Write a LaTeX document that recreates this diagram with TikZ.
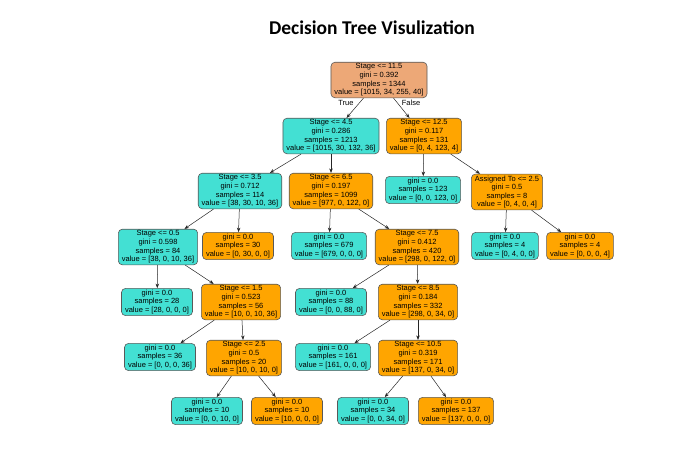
\documentclass[tikz,border=0pt]{standalone}
\usepackage{fontspec}
\setmainfont{Liberation Sans}
\newfontfamily\titlefont{Carlito}
\usetikzlibrary{arrows.meta}
\definecolor{rootsalmon}{HTML}{EDA877}
\definecolor{leafcyan}{HTML}{43E0D3}
\definecolor{leaforange}{HTML}{FFA500}
\tikzset{
  tnode/.style={draw=black!65, line width=0.6pt, rounded corners=4pt, align=center,
    font=\fontsize{7.5}{8.6}\selectfont, inner xsep=3.5pt, inner ysep=1.5pt},
  cnode/.style={tnode, fill=leafcyan},
  onode/.style={tnode, fill=leaforange},
  edge/.style={black!85, line width=0.5pt, -{Stealth[length=4.5pt,width=3.5pt]}},
  lbl/.style={font=\fontsize{7.5}{8.6}\selectfont, inner sep=0pt}
}

\begin{document}
\begin{tikzpicture}[x=1pt,y=-1pt]
\useasboundingbox (0,0) rectangle (693,475);
\node[font=\titlefont\bfseries\fontsize{19.5}{22}\selectfont] (title) at (372,28) {Decision Tree Visulization};
\node[tnode, fill=rootsalmon] (root) at (379,80) {Stage <= 11.5\\gini = 0.392\\samples = 1344\\value = [1015, 34, 255, 40]};
\node[cnode] (s45) at (331,136) {Stage <= 4.5\\gini = 0.286\\samples = 1213\\value = [1015, 30, 132, 36]};
\node[onode] (s125) at (424,136) {Stage <= 12.5\\gini = 0.117\\samples = 131\\value = [0, 4, 123, 4]};
\node[cnode] (s35) at (240,191) {Stage <= 3.5\\gini = 0.712\\samples = 114\\value = [38, 30, 10, 36]};
\node[onode] (s65) at (331,191) {Stage <= 6.5\\gini = 0.197\\samples = 1099\\value = [977, 0, 122, 0]};
\node[cnode] (l123) at (423,190) {gini = 0.0\\samples = 123\\value = [0, 0, 123, 0]};
\node[onode] (a25) at (507,192) {Assigned To <= 2.5\\gini = 0.5\\samples = 8\\value = [0, 4, 0, 4]};
\node[cnode] (s05) at (158,247) {Stage <= 0.5\\gini = 0.598\\samples = 84\\value = [38, 0, 10, 36]};
\node[onode] (l30) at (238,246) {gini = 0.0\\samples = 30\\value = [0, 30, 0, 0]};
\node[cnode] (l679) at (329,246) {gini = 0.0\\samples = 679\\value = [679, 0, 0, 0]};
\node[onode] (s75) at (417,247) {Stage <= 7.5\\gini = 0.412\\samples = 420\\value = [298, 0, 122, 0]};
\node[cnode] (l4a) at (505,246) {gini = 0.0\\samples = 4\\value = [0, 4, 0, 0]};
\node[onode] (l4b) at (580,246) {gini = 0.0\\samples = 4\\value = [0, 0, 0, 4]};
\node[cnode] (l28) at (157,302) {gini = 0.0\\samples = 28\\value = [28, 0, 0, 0]};
\node[onode] (s15) at (241,302) {Stage <= 1.5\\gini = 0.523\\samples = 56\\value = [10, 0, 10, 36]};
\node[cnode] (l88) at (331,302) {gini = 0.0\\samples = 88\\value = [0, 0, 88, 0]};
\node[onode] (s85) at (418,302) {Stage <= 8.5\\gini = 0.184\\samples = 332\\value = [298, 0, 34, 0]};
\node[cnode] (l36) at (160,357) {gini = 0.0\\samples = 36\\value = [0, 0, 0, 36]};
\node[onode] (s25) at (244,358) {Stage <= 2.5\\gini = 0.5\\samples = 20\\value = [10, 0, 10, 0]};
\node[cnode] (l161) at (333,357) {gini = 0.0\\samples = 161\\value = [161, 0, 0, 0]};
\node[onode] (s105) at (418,358) {Stage <= 10.5\\gini = 0.319\\samples = 171\\value = [137, 0, 34, 0]};
\node[cnode] (l10a) at (207,411) {gini = 0.0\\samples = 10\\value = [0, 0, 10, 0]};
\node[onode] (l10b) at (287,411) {gini = 0.0\\samples = 10\\value = [10, 0, 0, 0]};
\node[cnode] (l34) at (373,411) {gini = 0.0\\samples = 34\\value = [0, 0, 34, 0]};
\node[onode] (l137) at (456,411) {gini = 0.0\\samples = 137\\value = [137, 0, 0, 0]};
\foreach \a/\b in {root/s45, root/s125, s45/s35, s45/s65, s125/l123, s125/a25,
  s35/s05, s35/l30, s65/l679, s65/s75, a25/l4a, a25/l4b, s05/l28, s05/s15,
  s75/l88, s75/s85, s15/l36, s15/s25, s85/l161, s85/s105, s25/l10a, s25/l10b,
  s105/l34, s105/l137}
  \draw[edge] (\a) -- (\b);
\node[lbl] (ltrue) at (346,103) {True};
\node[lbl] (lfalse) at (411,103) {False};
\end{tikzpicture}
\end{document}
